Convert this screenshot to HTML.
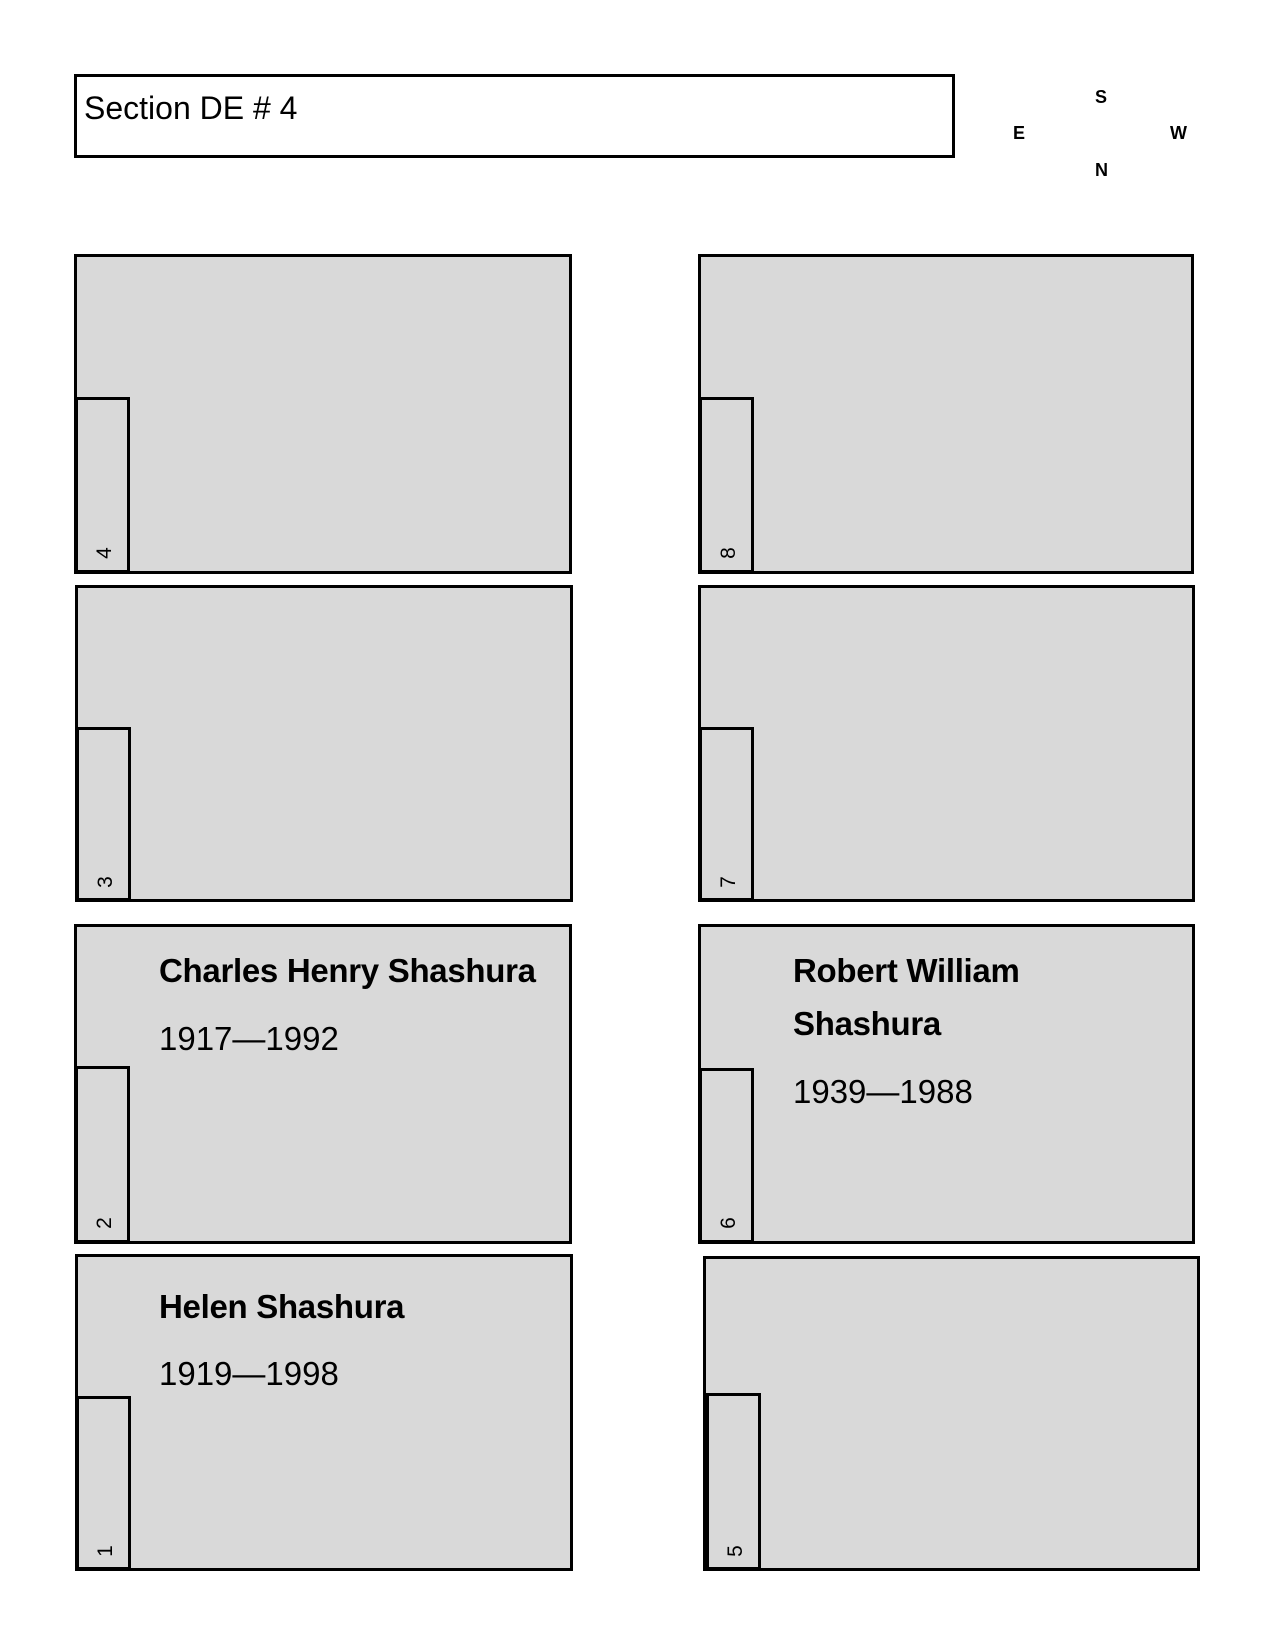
<!DOCTYPE html>
<html><head><meta charset="utf-8"><style>
body{margin:0;width:1275px;height:1650px;background:#fff;position:relative;font-family:"Liberation Sans",sans-serif;overflow:hidden}
.b{position:absolute;background:#d9d9d9;border:3px solid #000;box-sizing:border-box}
.t{position:absolute;background:#d9d9d9;border:3px solid #000;box-sizing:border-box;width:55px}
.n{position:absolute;font-size:21px;transform:rotate(-90deg);transform-origin:center;width:22px;text-align:center}
.x{position:absolute;white-space:nowrap;color:#000}
.nm{font-weight:bold;font-size:33px;letter-spacing:-0.3px}
.dt{font-size:33px}
.c{position:absolute;font-size:18px;font-weight:bold}
</style></head><body>
<div style="position:absolute;left:74px;top:74px;width:881px;height:84px;border:3px solid #000;box-sizing:border-box"></div>
<div class="x" style="left:84px;top:90px;font-size:32px">Section DE # 4</div>
<div class="c" style="left:1095px;top:87px">S</div>
<div class="c" style="left:1013px;top:123px">E</div>
<div class="c" style="left:1170px;top:123px">W</div>
<div class="c" style="left:1095px;top:160px">N</div>

<div class="b" style="left:74px;top:254px;width:498px;height:320px"></div>
<div class="t" style="left:75px;top:397px;height:176px"></div>
<div class="n" style="left:94px;top:541px">4</div>

<div class="b" style="left:698px;top:254px;width:496px;height:320px"></div>
<div class="t" style="left:699px;top:397px;height:176px"></div>
<div class="n" style="left:718px;top:541px">8</div>

<div class="b" style="left:75px;top:585px;width:498px;height:317px"></div>
<div class="t" style="left:76px;top:727px;height:174px"></div>
<div class="n" style="left:95px;top:870px">3</div>

<div class="b" style="left:698px;top:585px;width:497px;height:317px"></div>
<div class="t" style="left:699px;top:727px;height:174px"></div>
<div class="n" style="left:718px;top:870px">7</div>

<div class="b" style="left:74px;top:924px;width:498px;height:320px"></div>
<div class="t" style="left:75px;top:1066px;height:177px"></div>
<div class="n" style="left:94px;top:1211px">2</div>
<div class="x nm" style="left:159px;top:952px">Charles Henry Shashura</div>
<div class="x dt" style="left:159px;top:1020px">1917—1992</div>

<div class="b" style="left:698px;top:924px;width:497px;height:320px"></div>
<div class="t" style="left:699px;top:1068px;height:175px"></div>
<div class="n" style="left:718px;top:1211px">6</div>
<div class="x nm" style="left:793px;top:952px">Robert William</div>
<div class="x nm" style="left:793px;top:1005px">Shashura</div>
<div class="x dt" style="left:793px;top:1073px">1939—1988</div>

<div class="b" style="left:75px;top:1254px;width:498px;height:317px"></div>
<div class="t" style="left:76px;top:1396px;height:174px"></div>
<div class="n" style="left:95px;top:1539px">1</div>
<div class="x nm" style="left:159px;top:1288px">Helen Shashura</div>
<div class="x dt" style="left:159px;top:1355px">1919—1998</div>

<div class="b" style="left:703px;top:1256px;width:497px;height:315px"></div>
<div class="t" style="left:706px;top:1393px;height:177px"></div>
<div class="n" style="left:725px;top:1539px">5</div>
</body></html>
